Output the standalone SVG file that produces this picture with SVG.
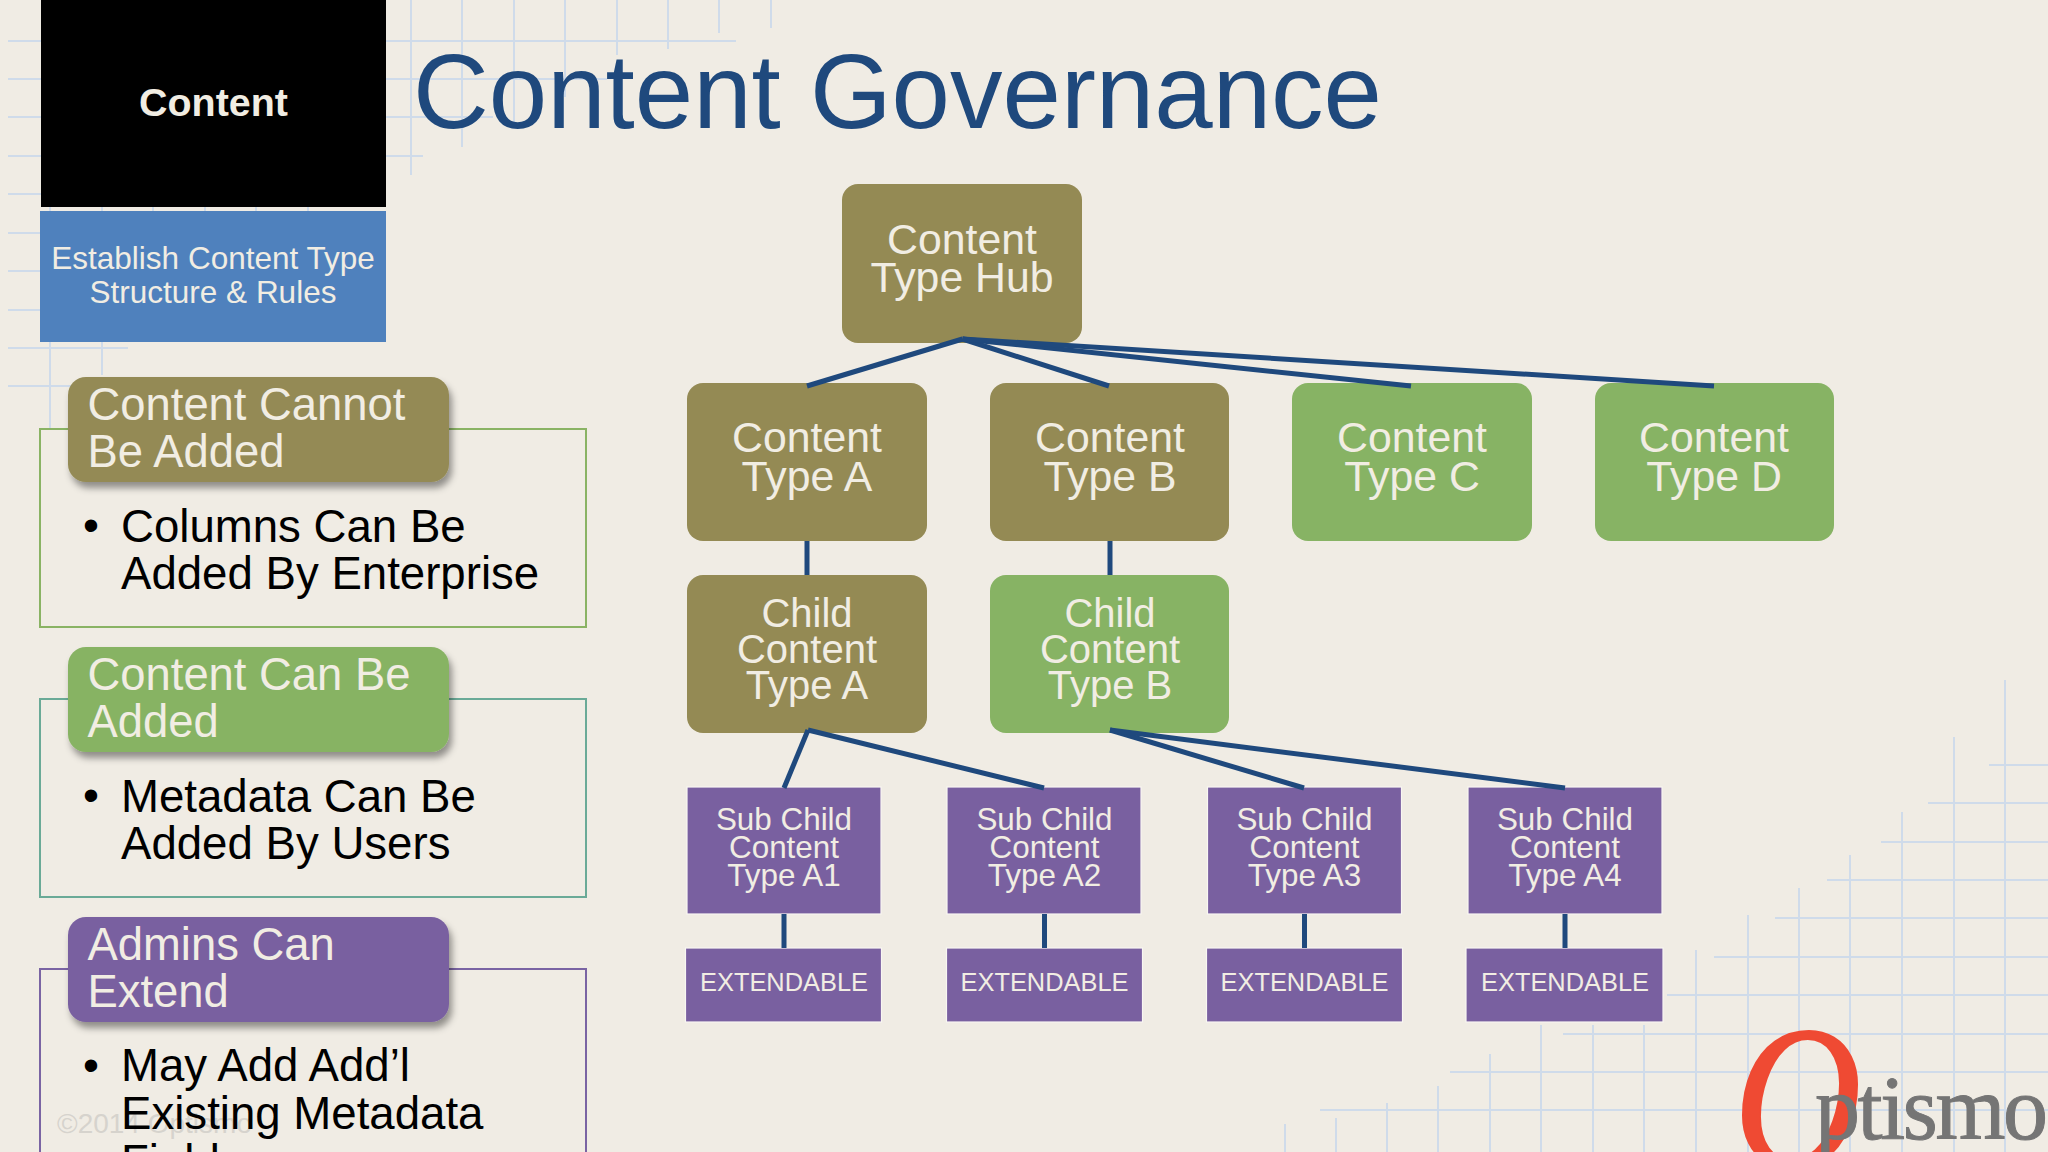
<svg xmlns="http://www.w3.org/2000/svg" width="2048" height="1152" viewBox="0 0 2048 1152">
<defs>
<style>
text{font-family:"Liberation Sans",Arial,sans-serif;fill:#f1ede3}
.grid line{stroke:#cfdbea;stroke-width:2}
.conn line{stroke:#1f497d;stroke-width:5;fill:none}
.olive{fill:#948a54}.green{fill:#87b364}.purple{fill:#7960a0}
.n1 text{font-size:42.8px;text-anchor:middle}
.n2 text{font-size:40px;text-anchor:middle}
.n3 text{font-size:31.4px;text-anchor:middle}
.n3 rect,.n4 rect{stroke:#f8f6f2;stroke-width:1.2}
.n4 text{font-size:25.4px;text-anchor:middle}
.lab text{font-size:45.4px}
.lab text.body{font-size:45.6px;fill:#000}
.frame{fill:none;stroke-width:2}
</style>
<filter id="sh" x="-5%" y="-10%" width="112%" height="130%"><feDropShadow dx="3" dy="6" stdDeviation="3.5" flood-color="#000" flood-opacity="0.4"/></filter>
</defs>
<rect width="2048" height="1152" fill="#f0ece4"/>
<g class="grid">
<line x1="8" y1="41" x2="736" y2="41"/><line x1="8" y1="79" x2="607" y2="79"/><line x1="8" y1="117" x2="493" y2="117"/><line x1="8" y1="156" x2="423" y2="156"/><line x1="8" y1="194" x2="386" y2="194"/><line x1="8" y1="233" x2="386" y2="233"/><line x1="8" y1="271" x2="386" y2="271"/><line x1="8" y1="310" x2="386" y2="310"/><line x1="8" y1="348" x2="128" y2="348"/><line x1="8" y1="386" x2="80" y2="386"/>
<line x1="50" y1="0" x2="50" y2="428"/><line x1="102" y1="0" x2="102" y2="375"/><line x1="153" y1="0" x2="153" y2="215"/><line x1="205" y1="0" x2="205" y2="215"/><line x1="256" y1="0" x2="256" y2="215"/><line x1="308" y1="0" x2="308" y2="215"/>
<line x1="411" y1="0" x2="411" y2="175"/><line x1="462" y1="0" x2="462" y2="147"/><line x1="514" y1="0" x2="514" y2="125"/><line x1="565" y1="0" x2="565" y2="97"/><line x1="617" y1="0" x2="617" y2="55"/><line x1="668" y1="0" x2="668" y2="49"/><line x1="719" y1="0" x2="719" y2="33"/><line x1="771" y1="0" x2="771" y2="28"/>
<line x1="1989" y1="765" x2="2048" y2="765"/><line x1="1928" y1="803" x2="2048" y2="803"/><line x1="1881" y1="842" x2="2048" y2="842"/><line x1="1827" y1="880" x2="2048" y2="880"/><line x1="1775" y1="918" x2="2048" y2="918"/><line x1="1714" y1="957" x2="2048" y2="957"/><line x1="1667" y1="995" x2="2048" y2="995"/><line x1="1563" y1="1034" x2="2048" y2="1034"/><line x1="1450" y1="1072" x2="2048" y2="1072"/><line x1="1320" y1="1110" x2="2048" y2="1110"/>
<line x1="2005" y1="680" x2="2005" y2="1152"/><line x1="1954" y1="737" x2="1954" y2="1152"/><line x1="1902" y1="812" x2="1902" y2="1152"/><line x1="1850" y1="855" x2="1850" y2="1152"/><line x1="1799" y1="888" x2="1799" y2="1152"/><line x1="1748" y1="915" x2="1748" y2="1152"/><line x1="1696" y1="950" x2="1696" y2="1152"/><line x1="1644" y1="1025" x2="1644" y2="1152"/><line x1="1593" y1="1025" x2="1593" y2="1152"/><line x1="1541" y1="1025" x2="1541" y2="1152"/><line x1="1490" y1="1054" x2="1490" y2="1152"/><line x1="1438" y1="1086" x2="1438" y2="1152"/><line x1="1387" y1="1103" x2="1387" y2="1152"/><line x1="1336" y1="1118" x2="1336" y2="1152"/><line x1="1285" y1="1124" x2="1285" y2="1152"/>
</g>
<text x="57" y="1133" style="font-size:28px;fill:#d6d3cd">©2014 Optismo</text>
<g id="header">
<rect x="41" y="0" width="345" height="207" fill="#000"/>
<text x="213.500" y="116" text-anchor="middle" style="font-size:39.4px;font-weight:bold">Content</text>
</g>
<g id="subheader">
<rect x="40" y="211" width="346" height="131" fill="#4f81bd"/>
<text x="213" y="269" text-anchor="middle" style="font-size:31.5px">Establish Content Type</text>
<text x="213" y="303" text-anchor="middle" style="font-size:31.5px">Structure &amp; Rules</text>
</g>
<text id="title" x="413" y="128" style="font-size:105px;fill:#1f497d">Content Governance</text>
<g id="panel1" class="lab">
<rect class="frame" x="40" y="429" width="546" height="198" stroke="#8ab364"/>
<rect class="olive" x="68" y="377" width="381" height="105" rx="18" filter="url(#sh)"/>
<text x="87.500" y="420">Content Cannot</text><text x="87.500" y="467">Be Added</text>
<text x="91" y="541" class="body" text-anchor="middle">•</text>
<text x="121" y="542" class="body">Columns Can Be</text><text x="121" y="589" class="body">Added By Enterprise</text>
</g>
<g id="panel2" class="lab">
<rect class="frame" x="40" y="699" width="546" height="198" stroke="#6aaa97"/>
<rect class="green" x="68" y="647" width="381" height="105" rx="18" filter="url(#sh)"/>
<text x="87.500" y="690">Content Can Be</text><text x="87.500" y="737">Added</text>
<text x="91" y="811" class="body" text-anchor="middle">•</text>
<text x="121" y="812" class="body">Metadata Can Be</text><text x="121" y="859" class="body">Added By Users</text>
</g>
<g id="panel3" class="lab">
<rect class="frame" x="40" y="969" width="546" height="198" stroke="#7a64a3"/>
<rect class="purple" x="68" y="917" width="381" height="105" rx="18" filter="url(#sh)"/>
<text x="87.500" y="960">Admins Can</text><text x="87.500" y="1007">Extend</text>
<text x="91" y="1081" class="body" text-anchor="middle">•</text>
<text x="121" y="1081" class="body">May Add Add’l</text><text x="121" y="1129" class="body">Existing Metadata</text><text x="121" y="1177" class="body">Fields</text>
</g>
<g id="nodes">
<g id="hub" class="n1"><rect class="olive" x="842" y="184" width="240" height="159" rx="16"/><text x="962" y="254">Content</text><text x="962" y="292">Type Hub</text></g>
<g id="type-a" class="n1"><rect class="olive" x="687" y="383" width="240" height="158" rx="16"/><text x="807" y="452">Content</text><text x="807" y="491">Type A</text></g>
<g id="type-b" class="n1"><rect class="olive" x="990" y="383" width="239" height="158" rx="16"/><text x="1110" y="452">Content</text><text x="1110" y="491">Type B</text></g>
<g id="type-c" class="n1"><rect class="green" x="1292" y="383" width="240" height="158" rx="16"/><text x="1412" y="452">Content</text><text x="1412" y="491">Type C</text></g>
<g id="type-d" class="n1"><rect class="green" x="1595" y="383" width="239" height="158" rx="16"/><text x="1714" y="452">Content</text><text x="1714" y="491">Type D</text></g>
<g id="child-a" class="n2"><rect class="olive" x="687" y="575" width="240" height="158" rx="16"/><text x="807" y="627">Child</text><text x="807" y="663">Content</text><text x="807" y="699">Type A</text></g>
<g id="child-b" class="n2"><rect class="green" x="990" y="575" width="239" height="158" rx="16"/><text x="1110" y="627">Child</text><text x="1110" y="663">Content</text><text x="1110" y="699">Type B</text></g>
<g id="sub-a1" class="n3"><rect class="purple" x="687" y="787" width="194" height="127"/><text x="784" y="830">Sub Child</text><text x="784" y="858">Content</text><text x="784" y="886">Type A1</text></g>
<g id="sub-a2" class="n3"><rect class="purple" x="947" y="787" width="194" height="127"/><text x="1044.500" y="830">Sub Child</text><text x="1044.500" y="858">Content</text><text x="1044.500" y="886">Type A2</text></g>
<g id="sub-a3" class="n3"><rect class="purple" x="1207.500" y="787" width="194" height="127"/><text x="1304.500" y="830">Sub Child</text><text x="1304.500" y="858">Content</text><text x="1304.500" y="886">Type A3</text></g>
<g id="sub-a4" class="n3"><rect class="purple" x="1468" y="787" width="194" height="127"/><text x="1565" y="830">Sub Child</text><text x="1565" y="858">Content</text><text x="1565" y="886">Type A4</text></g>
<g id="ext-1" class="n4"><rect class="purple" x="685.500" y="948" width="196" height="74"/><text x="784" y="991">EXTENDABLE</text></g>
<g id="ext-2" class="n4"><rect class="purple" x="946.500" y="948" width="196" height="74"/><text x="1044.500" y="991">EXTENDABLE</text></g>
<g id="ext-3" class="n4"><rect class="purple" x="1206.500" y="948" width="196" height="74"/><text x="1304.500" y="991">EXTENDABLE</text></g>
<g id="ext-4" class="n4"><rect class="purple" x="1466" y="948" width="197" height="74"/><text x="1565" y="991">EXTENDABLE</text></g>
</g>
<g id="connectors" class="conn">
<line x1="962.500" y1="339" x2="807" y2="386"/><line x1="962.500" y1="339" x2="1109" y2="386"/><line x1="962.500" y1="339" x2="1411" y2="386"/><line x1="962.500" y1="339" x2="1714" y2="386"/>
<line x1="807" y1="541" x2="807" y2="575"/><line x1="1110" y1="541" x2="1110" y2="575"/>
<line x1="808" y1="730" x2="784" y2="788"/><line x1="808" y1="730" x2="1044" y2="788"/><line x1="1110" y1="730" x2="1304" y2="788"/><line x1="1110" y1="730" x2="1565" y2="788"/>
<line x1="784" y1="914" x2="784" y2="948"/><line x1="1044.500" y1="914" x2="1044.500" y2="948"/><line x1="1304.500" y1="914" x2="1304.500" y2="948"/><line x1="1565" y1="914" x2="1565" y2="948"/>
</g>
<g id="logo">
<text transform="translate(1734 1167) scale(0.86 1)" stroke="#ef4a33" stroke-width="2" style="font-family:'Liberation Serif',serif;font-style:italic;font-size:205px;fill:#ef4a33">O</text>
<text x="1815" y="1139" textLength="233" lengthAdjust="spacing" stroke="#757575" stroke-width="1" style="font-family:'Liberation Serif',serif;font-size:90px;fill:#757575">ptismo</text>
</g>
</svg>
